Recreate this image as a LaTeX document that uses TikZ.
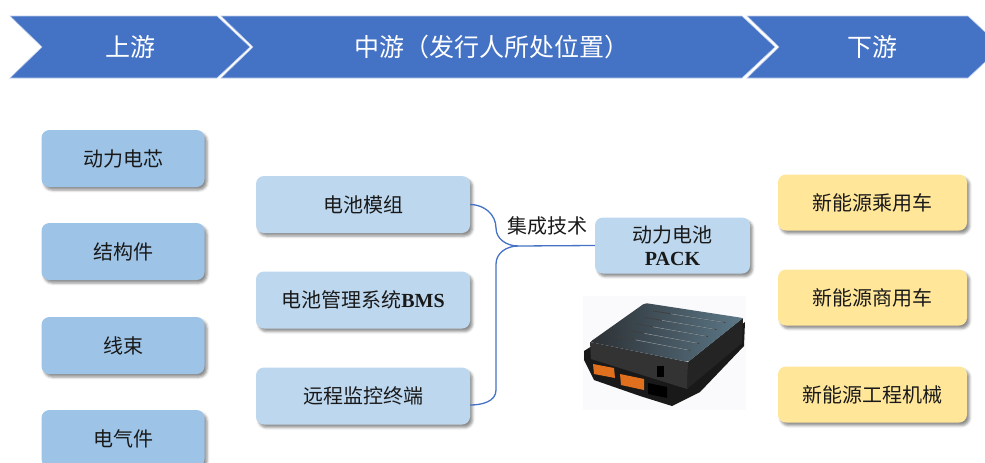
\documentclass[tikz,border=0pt]{standalone}
\usepackage{fontspec}
\setmainfont{Liberation Serif}
\newfontfamily\cjk{Noto Sans CJK SC}
\usetikzlibrary{shadows.blur,calc}
\definecolor{headblue}{HTML}{4472C4}
\definecolor{upfill}{HTML}{9DC3E6}
\definecolor{midfill}{HTML}{BDD7EE}
\definecolor{downfill}{HTML}{FFE699}
\definecolor{portorange}{HTML}{E0701E}
\definecolor{packtop}{HTML}{2C3034}
\definecolor{packglow}{HTML}{5C7888}
\definecolor{photobg}{HTML}{FAFAFC}
\tikzset{
  box/.style={rounded corners=8pt,minimum height=57pt,inner sep=2pt,text=black!90,
    font=\cjk\fontsize{20}{23}\selectfont,
    blur shadow={shadow xshift=2.5pt,shadow yshift=-3pt,shadow blur radius=2.5pt,shadow opacity=45}},
  upbox/.style={box,fill=upfill,minimum width=163pt},
  midbox/.style={box,fill=midfill,minimum width=214pt},
  downbox/.style={box,fill=downfill,minimum width=189pt,minimum height=56pt},
  headtxt/.style={text=white,font=\cjk\fontsize{25}{28}\selectfont},
  link/.style={headblue,line width=1.3pt}
}
\begin{document}
\begin{tikzpicture}[x=1pt,y=-1pt]
\useasboundingbox (0,0) rectangle (985,463);
% header chevrons
\foreach \a/\b in {10/217,221/742,747/968}
  \draw[fill=headblue,draw=headblue!35,line width=0.6pt] (\a,16) -- (\b,16) -- (\b+33,47) -- (\b,78) -- (\a,78) -- (\a+32,47) -- cycle;
\node[headtxt] (hup) at (130,47) {上游};
\node[headtxt] (hmid) at (492,47) {中游（发行人所处位置）};
\node[headtxt] (hdown) at (872,47) {下游};
% upstream
\node[upbox] (u1) at (123,158.5) {动力电芯};
\node[upbox] (u2) at (123,251.5) {结构件};
\node[upbox] (u3) at (123,345.5) {线束};
\node[upbox] (u4) at (123,438.5) {电气件};
% midstream
\node[midbox] (m1) at (363,204.5) {电池模组};
\node[midbox] (m2) at (363,300) {电池管理系统{\rmfamily\bfseries BMS}};
\node[midbox] (m3) at (363,396) {远程监控终端};
\node[midbox,minimum width=155pt,minimum height=56pt,align=center] (pack) at (672.5,245.5) {动力电池\\{\rmfamily\bfseries PACK}};
\node[text=black!90,font=\cjk\fontsize{20}{23}\selectfont] (tech) at (547,226) {集成技术};
\coordinate (join) at (518,246);
\draw[link] (m1.east) to[out=0,in=90] (496,228) to[out=-90,in=180] (join) -- (pack.west);
\draw[link] (join) to[out=180,in=90] (496,264) -- (496,390) to[out=-90,in=0] ([yshift=-9pt]m3.east);
% downstream
\node[downbox] (d1) at (872.5,202.5) {新能源乘用车};
\node[downbox] (d2) at (872.5,297.5) {新能源商用车};
\node[downbox] (d3) at (872.5,394.5) {新能源工程机械};
% battery pack photo
\fill[photobg] (583,296) rectangle (746,410);
\coordinate (bl) at (590,342);
\coordinate (bb) at (645,303);
\coordinate (br) at (743,318);
\coordinate (bf) at (688,362);
\fill[black!90] (584,351) -- (592,346) -- (686,370) -- (745,322) -- (744,346) -- (700,392) -- (672,406) -- (640,396) -- (594,380) -- (584,360) -- cycle;
%\draw[black!60] (584,351) -- (686,376) -- (745,328);
\fill[black!86] (bf) -- (br) -- (742,343) -- (687,389) -- cycle;
\fill[black!80] (bl) -- (bf) -- (687,389) -- (591,359) -- cycle;
\shade[left color=packtop,right color=packglow,rounded corners=2pt] (bl) -- (bb) -- (br) -- (bf) -- cycle;
\foreach \t in {0.22,0.38,0.54,0.7,0.86} {
  \draw[black!75,line width=0.8pt,shorten <=16pt,shorten >=10pt] ($(bl)!\t!(bb)$) -- ($(bf)!\t!(br)$);
  \draw[packglow!70!white,line width=0.5pt,shorten <=34pt,shorten >=12pt,yshift=1.2pt] ($(bl)!\t!(bb)$) -- ($(bf)!\t!(br)$);
}
\fill[portorange] (593,364) -- (614,368) -- (615,378) -- (594,374) -- cycle;
\fill[portorange] (620,374) -- (644,379) -- (644,390) -- (621,385) -- cycle;
\fill[black] (648,383) -- (667,387) -- (667,398) -- (648,394) -- cycle;
\fill[black] (657,366) rectangle (664,377);
\end{tikzpicture}
\end{document}
